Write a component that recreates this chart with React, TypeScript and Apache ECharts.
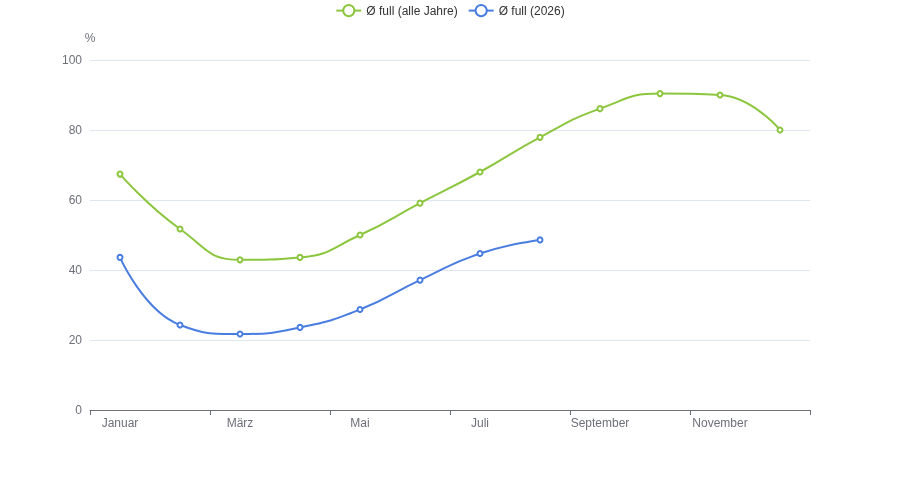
import React, { useEffect, useRef } from "react";
import * as echarts from "echarts";

const months = [
  "Januar", "Februar", "März", "April", "Mai", "Juni",
  "Juli", "August", "September", "Oktober", "November", "Dezember",
];
const allYears = [67.4, 51.7, 42.9, 43.6, 50.0, 59.1, 68.0, 77.9, 86.1, 90.4, 90.0, 80.0];
const year2026 = [43.6, 24.3, 21.7, 23.6, 28.7, 37.1, 44.7, 48.6];
const seriesNames = ["Ø full (alle Jahre)", "Ø full (2026)"];
const colors = ["#8cc63e", "#4a7de0"];

export default function App() {
  const ref = useRef<HTMLDivElement>(null);
  useEffect(() => {
    if (!ref.current) return;
    const chart = echarts.init(ref.current, undefined, { renderer: "svg" });
    chart.setOption({
      animation: false,
      color: colors,
      textStyle: { fontFamily: "sans-serif" },
      legend: {
        top: 0,
        padding: [4, 5, 5, 5],
        data: seriesNames,
        itemGap: 10,
        itemWidth: 25,
        itemHeight: 14,
        textStyle: { color: "#333", fontSize: 12 },
      },
      grid: { left: 90, right: 90, top: 60, bottom: 70 },
      xAxis: {
        type: "category",
        data: months,
        axisLine: { show: true, lineStyle: { color: "#6E7079", width: 1 } },
        axisLabel: { interval: 1, margin: 7, color: "#6E7079", fontSize: 12 },
        axisTick: { show: true, interval: 1, length: 5, lineStyle: { color: "#6E7079" } },
      },
      yAxis: {
        type: "value",
        name: "%",
        min: 0,
        max: 100,
        interval: 20,
        nameGap: 16,
        nameTextStyle: { color: "#6E7079", fontSize: 12 },
        axisLabel: { color: "#6E7079", fontSize: 12, margin: 8 },
        axisLine: { show: false },
        axisTick: { show: false },
        splitLine: { lineStyle: { color: "#E0E6F1" } },
      },
      series: [
        {
          name: seriesNames[0],
          type: "line",
          smooth: true,
          data: allYears,
          symbol: "emptyCircle",
          symbolSize: 5,
          lineStyle: { width: 2 },
        },
        {
          name: seriesNames[1],
          type: "line",
          smooth: true,
          data: year2026,
          symbol: "emptyCircle",
          symbolSize: 5,
          lineStyle: { width: 2 },
        },
      ],
    });
    return () => chart.dispose();
  }, []);
  return (
    <div
      ref={ref}
      style={{ position: "fixed", left: 0, top: 0, width: 900, height: 480 }}
    />
  );
}
